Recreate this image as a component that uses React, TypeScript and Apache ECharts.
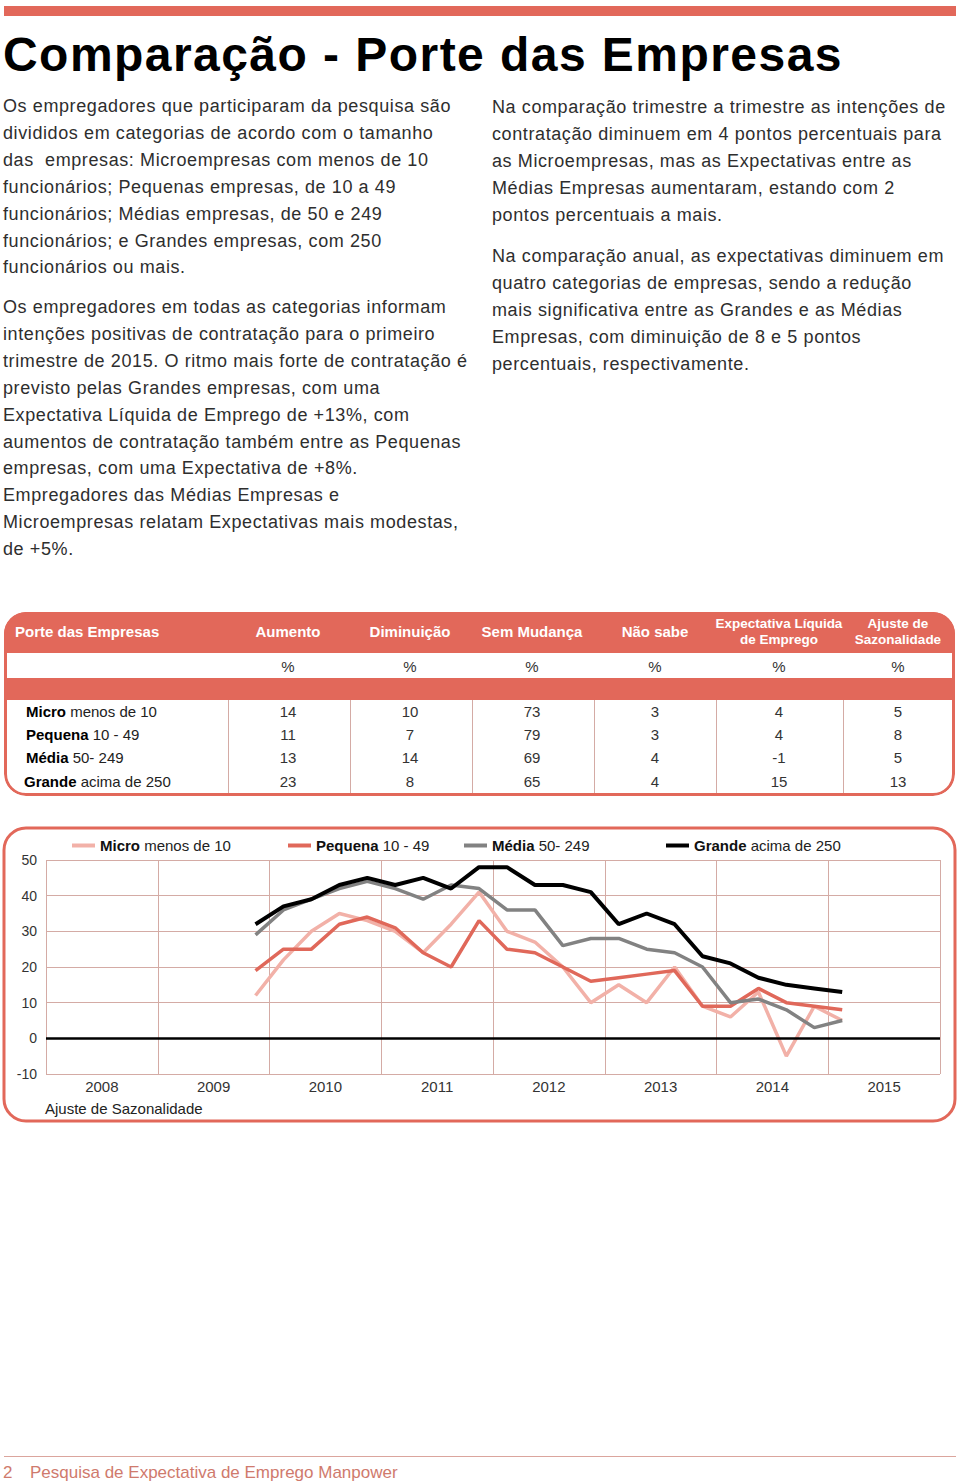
import React, { useEffect, useRef } from "react";
import * as echarts from "echarts";

const CORAL = "#e2685a";
const GRID = "#d4aba5";
const FONT = "'Liberation Sans', Arial, Helvetica, sans-serif";

// ---- chart data ----
const years = ["2008", "2009", "2010", "2011", "2012", "2013", "2014", "2015"];
const quarters = years.flatMap((y) => ["T1", "T2", "T3", "T4"].map((q) => `${y} ${q}`));
const firstQuarter = "2009 T4";
const seriesBold = ["Micro", "Pequena", "Média", "Grande"];
const seriesRest = ["menos de 10", "10 - 49", "50- 249", "acima de 250"];
const seriesColors = ["#f2b1a8", "#e0685a", "#828282", "#000000"];
const micro = [12, 22, 30, 35, 33, 30, 24, 32, 41, 30, 27, 20, 10, 15, 10, 20, 9, 6, 13, -5, 9, 5];
const pequena = [19, 25, 25, 32, 34, 31, 24, 20, 33, 25, 24, 20, 16, 17, 18, 19, 9, 9, 14, 10, 9, 8];
const media = [29, 36, 39, 42, 44, 42, 39, 43, 42, 36, 36, 26, 28, 28, 25, 24, 20, 10, 11, 8, 3, 5];
const grande = [32, 37, 39, 43, 45, 43, 45, 42, 48, 48, 43, 43, 41, 32, 35, 32, 23, 21, 17, 15, 14, 13];
const yMin = -10;
const yMax = 50;
const yStep = 10;

// ---- table data ----
const tableHeaders = ["Porte das Empresas", "Aumento", "Diminuição", "Sem Mudança", "Não sabe", "Expectativa Líquida\nde Emprego", "Ajuste de\nSazonalidade"];
const aumento = [14, 11, 13, 23];
const diminuicao = [10, 7, 14, 8];
const semMudanca = [73, 79, 69, 65];
const naoSabe = [3, 3, 4, 4];
const expectativa = [4, 4, -1, 15];
const ajuste = [5, 8, 5, 13];

// ---- text ----
const title = "Comparação - Porte das Empresas";
const leftP1 = [
  "Os empregadores que participaram da pesquisa são",
  "divididos em categorias de acordo com o tamanho",
  "das  empresas: Microempresas com menos de 10",
  "funcionários; Pequenas empresas, de 10 a 49",
  "funcionários; Médias empresas, de 50 e 249",
  "funcionários; e Grandes empresas, com 250",
  "funcionários ou mais.",
];
const leftP2 = [
  "Os empregadores em todas as categorias informam",
  "intenções positivas de contratação para o primeiro",
  "trimestre de 2015. O ritmo mais forte de contratação é",
  "previsto pelas Grandes empresas, com uma",
  "Expectativa Líquida de Emprego de +13%, com",
  "aumentos de contratação também entre as Pequenas",
  "empresas, com uma Expectativa de +8%.",
  "Empregadores das Médias Empresas e",
  "Microempresas relatam Expectativas mais modestas,",
  "de +5%.",
];
const rightP1 = [
  "Na comparação trimestre a trimestre as intenções de",
  "contratação diminuem em 4 pontos percentuais para",
  "as Microempresas, mas as Expectativas entre as",
  "Médias Empresas aumentaram, estando com 2",
  "pontos percentuais a mais.",
];
const rightP2 = [
  "Na comparação anual, as expectativas diminuem em",
  "quatro categorias de empresas, sendo a redução",
  "mais significativa entre as Grandes e as Médias",
  "Empresas, com diminuição de 8 e 5 pontos",
  "percentuais, respectivamente.",
];
const pageNumber = "2";
const footerText = "Pesquisa de Expectativa de Emprego Manpower";

function Para({ lines, left, top }: { lines: string[]; left: number; top: number }) {
  return (
    <div
      style={{
        position: "absolute",
        left,
        top,
        fontSize: 18,
        lineHeight: "26.85px",
        letterSpacing: "0.6px",
        color: "#2e2e2e",
        whiteSpace: "pre",
      }}
    >
      {lines.map((l, i) => (
        <div key={i}>{l}</div>
      ))}
    </div>
  );
}

function Chart() {
  const ref = useRef<HTMLDivElement>(null);
  useEffect(() => {
    if (!ref.current) return;
    const chart = echarts.init(ref.current, undefined, { renderer: "svg" });
    const start = quarters.indexOf(firstQuarter);
    const allSeries = [micro, pequena, media, grande];
    const legendLefts = [72, 288, 464, 666];
    chart.setOption({
      animation: false,
      textStyle: { fontFamily: FONT },
      grid: { left: 46, top: 40, width: 894, height: 214 },
      legend: seriesBold.map((b, i) => ({
        data: [b],
        left: legendLefts[i],
        top: 18,
        padding: 0,
        icon: "rect",
        itemWidth: 23,
        itemHeight: 4,
        itemGap: 0,
        selectedMode: false,
        formatter: (name: string) => `{b|${name}} ${seriesRest[i]}`,
        textStyle: {
          fontFamily: FONT,
          fontSize: 15,
          color: "#222",
          rich: { b: { fontFamily: FONT, fontSize: 15, fontWeight: "bold", color: "#111" } },
        },
      })),
      xAxis: [
        {
          type: "category",
          data: years,
          boundaryGap: true,
          axisLine: { show: false, onZero: false },
          axisTick: { show: false },
          splitLine: { show: true, interval: 0, lineStyle: { color: GRID, width: 1 } },
          axisLabel: { color: "#333", fontSize: 15, margin: 5, fontFamily: FONT, interval: 0 },
        },
        {
          type: "category",
          data: quarters,
          boundaryGap: true,
          show: false,
        },
      ],
      yAxis: {
        type: "value",
        min: yMin,
        max: yMax,
        interval: yStep,
        axisLine: { show: false },
        axisTick: { show: false },
        splitLine: { lineStyle: { color: GRID, width: 1 } },
        axisLabel: { color: "#333", fontSize: 14, margin: 9, fontFamily: FONT },
      },
      series: allSeries.map((vals, i) => ({
        type: "line",
        name: seriesBold[i],
        xAxisIndex: 1,
        color: seriesColors[i],
        symbol: "none",
        lineStyle: { color: seriesColors[i], width: i === 3 ? 4 : 3.5 },
        data: vals.map((v, k) => [quarters[start + k], v]),
        z: 3 + i,
        markLine:
          i === 0
            ? {
                silent: true,
                symbol: ["none", "none"],
                label: { show: false },
                lineStyle: { color: "#000", width: 2.5, type: "solid" },
                data: [{ yAxis: 0 }],
              }
            : undefined,
      })),
      graphic: [
        {
          type: "rect",
          shape: { x: 4, y: 8, width: 951, height: 293, r: 22 },
          style: { fill: "none", stroke: CORAL, lineWidth: 3 },
          silent: true,
        },
        {
          type: "text",
          left: 45,
          top: 281,
          style: { text: "Ajuste de Sazonalidade", fontSize: 15, fill: "#222", fontFamily: FONT },
        },
      ],
    });
    return () => chart.dispose();
  }, []);
  return <div ref={ref} style={{ position: "absolute", left: 0, top: 820, width: 960, height: 310 }} />;
}

function Table() {
  const colCenters = [288, 410, 532, 655, 779, 898];
  const dividers = [228, 350, 472, 594, 716, 843];
  const cols = [aumento, diminuicao, semMudanca, naoSabe, expectativa, ajuste];
  const rowCenters = [712, 735, 758, 782];
  const L = 4;
  const T = 612;
  return (
    <div
      style={{
        position: "absolute",
        left: L,
        top: T,
        width: 951,
        height: 184,
        borderRadius: 22,
        overflow: "hidden",
        background: "#fff",
      }}
    >
      <div style={{ position: "absolute", left: 0, top: 0, width: 951, height: 41, background: CORAL }} />
      <div style={{ position: "absolute", left: 0, top: 66, width: 951, height: 22, background: CORAL }} />
      {dividers.map((x, i) => (
        <div key={i} style={{ position: "absolute", left: x - L, top: 88, width: 1, height: 96, background: GRID }} />
      ))}
      {tableHeaders.map((h, i) => {
        const two = h.includes("\n");
        if (i === 0)
          return (
            <div key={i} style={{ position: "absolute", left: 15 - L, top: 632 - T - 10, lineHeight: "20px", fontSize: 15, fontWeight: "bold", color: "#fff", whiteSpace: "pre" }}>
              {h}
            </div>
          );
        const cx = colCenters[i - 1] - L;
        return (
          <div
            key={i}
            style={{
              position: "absolute",
              left: cx - 80,
              width: 160,
              textAlign: "center",
              top: two ? 632 - T - 16 : 632 - T - 10,
              lineHeight: two ? "16px" : "20px",
              fontSize: two ? 13.5 : 15,
              fontWeight: "bold",
              color: "#fff",
              whiteSpace: "pre",
            }}
          >
            {h}
          </div>
        );
      })}
      {colCenters.map((c, i) => (
        <div key={i} style={{ position: "absolute", left: c - L - 30, width: 60, textAlign: "center", top: 667 - T - 10, lineHeight: "20px", fontSize: 15, color: "#333" }}>
          %
        </div>
      ))}
      {seriesBold.map((b, r) => (
        <div key={r} style={{ position: "absolute", left: (r === 3 ? 24 : 26) - L, top: rowCenters[r] - T - 10, lineHeight: "20px", fontSize: 15, color: "#222", whiteSpace: "pre" }}>
          <b style={{ color: "#000" }}>{b}</b> {seriesRest[r]}
        </div>
      ))}
      {cols.map((col, c) =>
        col.map((v, r) => (
          <div
            key={`${c}-${r}`}
            style={{ position: "absolute", left: colCenters[c] - L - 30, width: 60, textAlign: "center", top: rowCenters[r] - T - 10, lineHeight: "20px", fontSize: 15, color: "#333" }}
          >
            {v}
          </div>
        ))
      )}
      <div
        style={{
          position: "absolute",
          left: 0,
          top: 0,
          width: 951,
          height: 184,
          borderRadius: 22,
          border: `3px solid ${CORAL}`,
          boxSizing: "border-box",
        }}
      />
    </div>
  );
}

export default function App() {
  return (
    <div
      style={{
        position: "absolute",
        left: 0,
        top: 0,
        width: 960,
        height: 1484,
        background: "#fff",
        fontFamily: FONT,
        overflow: "hidden",
      }}
    >
      <div style={{ position: "absolute", left: 4, top: 6, width: 952, height: 10, background: CORAL }} />
      <div
        style={{
          position: "absolute",
          left: 3,
          top: 31,
          fontSize: 48,
          lineHeight: "48px",
          fontWeight: "bold",
          letterSpacing: "1.45px",
          color: "#000",
          whiteSpace: "pre",
        }}
      >
        {title}
      </div>
      <Para lines={leftP1} left={3} top={93.3} />
      <Para lines={leftP2} left={3} top={294.3} />
      <Para lines={rightP1} left={492} top={94.3} />
      <Para lines={rightP2} left={492} top={243.3} />
      <Table />
      <Chart />
      <div style={{ position: "absolute", left: 4, top: 1456, width: 952, height: 1, background: "#dba59d" }} />
      <div style={{ position: "absolute", left: 3, top: 1463, lineHeight: "20px", fontSize: 17, color: "#cf7a6d", whiteSpace: "pre" }}>
        {pageNumber}
      </div>
      <div style={{ position: "absolute", left: 30, top: 1463, lineHeight: "20px", fontSize: 17, color: "#cf7a6d", whiteSpace: "pre" }}>
        {footerText}
      </div>
    </div>
  );
}
